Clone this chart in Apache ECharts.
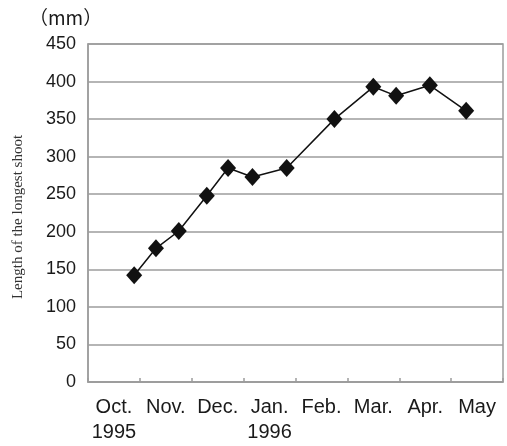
<!DOCTYPE html>
<html>
<head>
<meta charset="utf-8">
<script src="https://cdn.jsdelivr.net/npm/echarts@6/dist/echarts.min.js"></script>
<style>
  html, body { margin: 0; padding: 0; background: #fff; }
  #chart { width: 507px; height: 446px; }
</style>
</head>
<body>
<div id="chart"></div>
<script>
// Month categories along the bottom axis (second line carries the year)
const months = ['Oct.\n1995', 'Nov.', 'Dec.', 'Jan.\n1996', 'Feb.', 'Mar.', 'Apr.', 'May'];

// Sampling dates, expressed as months elapsed since 1 Oct 1995
const sampleMonth = [0.89, 1.31, 1.75, 2.29, 2.70, 3.17, 3.83, 4.75, 5.50, 5.94, 6.59, 7.29];

// Length of the longest shoot at each sampling date (mm)
const shootLength = [142, 178, 201, 248, 285, 273, 285, 350, 393, 381, 395, 361];

// Vertical axis range and step
const yMin = 0, yMax = 450, yStep = 50;

const points = sampleMonth.map((m, i) => [m, shootLength[i]]);

const gridColor = '#9c9c9c';
const textColor = '#1a1a1a';

const chart = echarts.init(document.getElementById('chart'), null, { renderer: 'canvas' });
chart.setOption({
  backgroundColor: '#ffffff',
  animation: false,
  grid: {
    left: 88, right: 4, top: 44, bottom: 64,
    show: true, borderColor: gridColor, borderWidth: 1.5, backgroundColor: '#ffffff'
  },
  xAxis: [
    {
      type: 'category',
      data: months,
      boundaryGap: true,
      axisLine: { lineStyle: { color: gridColor, width: 1.5 } },
      axisTick: { show: true, inside: true, length: 4, lineStyle: { color: gridColor, width: 1.5 } },
      axisLabel: {
        color: textColor, fontSize: 20, lineHeight: 25, margin: 13,
        fontFamily: "'Liberation Sans', Arial, sans-serif", interval: 0
      },
      splitLine: { show: false }
    },
    {
      type: 'value',
      min: 0, max: 8,
      show: false,
      position: 'bottom'
    }
  ],
  yAxis: {
    type: 'value',
    min: yMin, max: yMax, interval: yStep,
    axisLine: { show: true, lineStyle: { color: gridColor, width: 1.5 } },
    axisTick: { show: false },
    axisLabel: {
      color: textColor, fontSize: 18, margin: 12,
      fontFamily: "'Liberation Sans', Arial, sans-serif"
    },
    splitLine: { lineStyle: { color: gridColor, width: 1.5 } }
  },
  graphic: [
    {
      type: 'text', left: 29, top: 8,
      style: { text: '（mm）', fontSize: 19, fill: textColor, fontFamily: "'Noto Sans CJK JP', sans-serif" }
    },
    {
      type: 'text', x: 18, y: 217, rotation: Math.PI / 2,
      style: {
        text: 'Length of the longest shoot', fontSize: 15, fill: '#333',
        fontFamily: "'Liberation Serif', 'Times New Roman', serif",
        align: 'center', verticalAlign: 'middle'
      }
    }
  ],
  series: [{
    type: 'line',
    xAxisIndex: 1,
    data: points,
    symbol: 'diamond',
    symbolSize: [16, 18],
    itemStyle: { color: '#111' },
    lineStyle: { color: '#111', width: 1.5 }
  }]
});
</script>
</body>
</html>
